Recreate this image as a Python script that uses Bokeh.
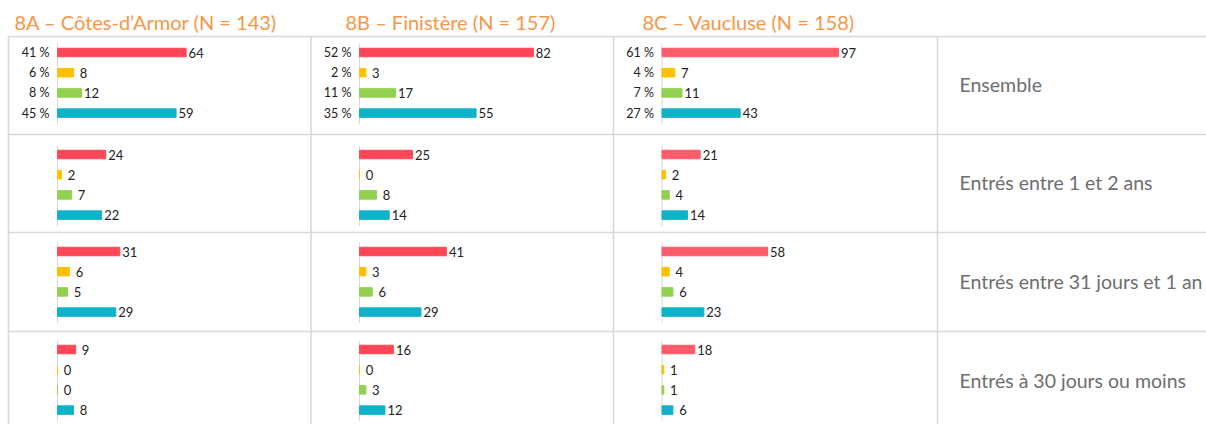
from bokeh.plotting import figure
from bokeh.models import Range1d
from bokeh.core.properties import value
from bokeh.embed import file_html
from bokeh.resources import INLINE

# ---------------- data ----------------
titles = ["8A – Côtes-d’Armor (N = 143)", "8B – Finistère (N = 157)", "8C – Vaucluse (N = 158)"]
row_labels = ["Ensemble", "Entrés entre 1 et 2 ans", "Entrés entre 31 jours et 1 an", "Entrés à 30 jours ou moins"]

# four series per cell (red, yellow, green, teal), rows in order of row_labels
cotes_armor = [[64, 8, 12, 59], [24, 2, 7, 22], [31, 6, 5, 29], [9, 0, 0, 8]]
finistere = [[82, 3, 17, 55], [25, 0, 8, 14], [41, 3, 6, 29], [16, 0, 3, 12]]
vaucluse = [[97, 7, 11, 43], [21, 2, 4, 14], [58, 4, 6, 23], [18, 1, 1, 6]]

pct_cotes_armor = [41, 6, 8, 45]
pct_finistere = [52, 2, 11, 35]
pct_vaucluse = [61, 4, 7, 27]

# ---------------- styling / layout ----------------
FONT = "Lato"
W, H = 1206, 424
PX0, PY0 = 0, 0  # page offset of the canvas
colors_std = ["#FF4757", "#FFC000", "#92D050", "#10B2C8"]
colors_c = ["#FF5B6B", "#FFC000", "#92D050", "#10B2C8"]
grid_col = "#DDD6D6"
axis_col = "#D9D9D9"

col_data = [cotes_armor, finistere, vaucluse]
col_pct = [pct_cotes_armor, pct_finistere, pct_vaucluse]
col_colors = [colors_std, colors_std, colors_c]
col_axis_x = [57, 359, 661.5]        # page x of value 0
col_px_per_unit = [2.01, 2.12, 1.82]
title_x = [14, 345, 642]

row_lines = [36, 134, 232, 331]
first_bar_y = [52, 154, 251, 349]
bar_step = 20.2
vlines = [8, 310.5, 613, 937]

p = figure(width=W, height=H, output_backend="svg", toolbar_location=None,
           x_range=Range1d(PX0, PX0 + W), y_range=Range1d(PY0 + H, PY0),
           min_border=0, outline_line_color=None)
p.axis.visible = False
p.grid.visible = False
p.background_fill_color = "white"

# table lines
for y in row_lines:
    p.line([8, PX0 + W], [y, y], line_color=grid_col, line_width=1.6)
for x in vlines:
    p.line([x, x], [row_lines[0], PY0 + H], line_color=grid_col, line_width=1.6)

for c in range(3):
    name = "col%d" % c
    x0, s = col_axis_x[c], col_px_per_unit[c]
    p.extra_x_ranges[name] = Range1d((PX0 - x0) / s, (PX0 + W - x0) / s)
    for r in range(4):
        vals = col_data[c][r]
        ys = [first_bar_y[r] + i * bar_step for i in range(4)]
        # category axis line
        p.segment(x0=[0], x1=[0], y0=[ys[0] - 9], y1=[ys[-1] + 11],
                  line_color=axis_col, line_width=1, x_range_name=name)
        p.hbar(y=ys, left=0, right=vals, height=8.5, color=col_colors[c],
               x_range_name=name)
        p.text(x=vals, y=ys, text=[str(v) for v in vals], x_range_name=name,
               x_offset=10, text_align="center", text_baseline="middle",
               text_font=value(FONT), text_font_size="13px", text_color="#222222")
        if r == 0:
            p.text(x=[0] * 4, y=ys, text=["%d %%" % v for v in col_pct[c]],
                   x_range_name=name, x_offset=-8, text_align="right",
                   text_baseline="middle", text_font=value(FONT),
                   text_font_size="12.5px", text_color="#222222")
    p.text(x=[title_x[c]], y=[21], text=[titles[c]], text_font=value(FONT),
           text_font_size="20px", text_color="#F79646", text_baseline="middle")

label_y = [84, 182, 281, 380]
p.text(x=[959] * 4, y=label_y, text=row_labels, text_font=value(FONT),
       text_font_size="19.5px", text_color="#6D6E71", text_baseline="middle")

open("out.html", "w").write(file_html(p, INLINE))
